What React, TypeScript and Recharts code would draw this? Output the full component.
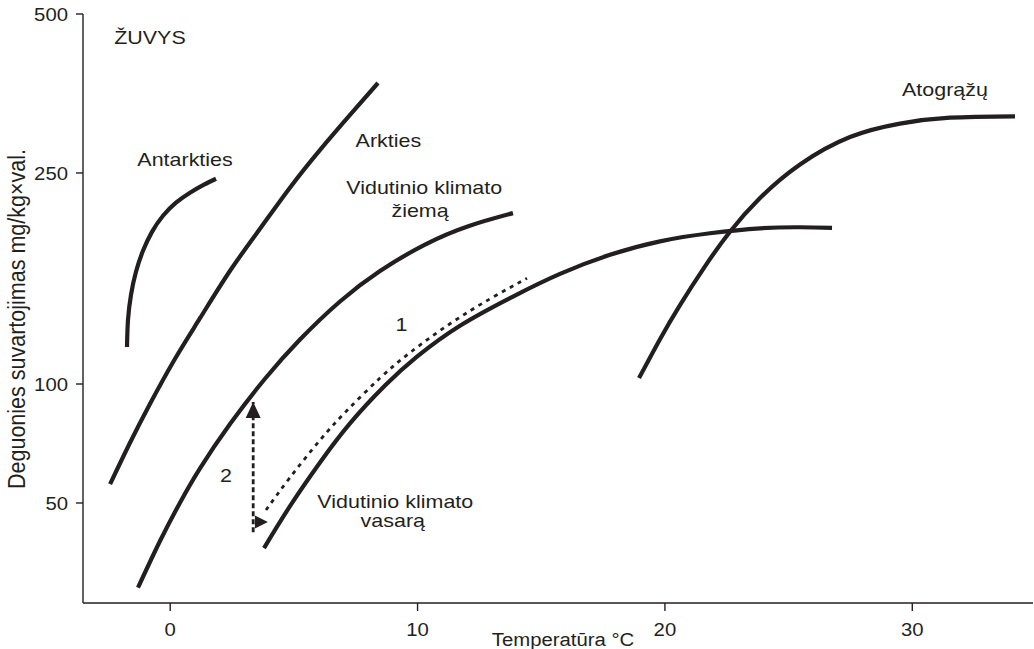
import React from 'react';
import { LineChart, Line, XAxis, YAxis, ReferenceDot } from 'recharts';

// Temperature (°C) and oxygen uptake (mg/kg×val.)
const antarktiesT = [-1.746, -1.706, -1.585, -1.383, -1.1, -0.736, -0.291, 0.234, 0.8, 1.366, 1.852];
const antarktiesV = [117.4, 132.1, 147.3, 162.8, 178.3, 193.6, 207.6, 219.7, 229.4, 237.6, 243.8];

const arktiesT = [-2.43, -1.63, -0.82, 0.19, 1.21, 2.42, 3.63, 4.84, 6.06, 7.27, 8.4];
const arktiesV = [55.8, 70.9, 89.0, 111.5, 133.2, 163.5, 196.2, 234.5, 276.5, 322.0, 370.1];

const ziemaT = [-1.302, -0.412, 0.396, 1.205, 2.418, 3.832, 5.247, 6.864, 8.481, 10.301, 12.08, 13.858];
const ziemaV = [30.6, 40.1, 50.1, 61.2, 79.2, 102.3, 121.3, 143.1, 163.3, 183.2, 198.6, 210.0];

const vasaraT = [3.792, 4.843, 6.056, 7.269, 8.684, 9.977, 11.715, 13.858, 15.758, 17.779, 19.801, 21.822, 23.844, 25.461, 26.755];
const vasaraV = [38.5, 49.1, 63.3, 79.5, 99.1, 112.6, 128.8, 146.2, 161.3, 175.2, 185.8, 192.4, 196.6, 197.5, 197.0];

// path 1: summer fish warmed up (dotted)
const kelias1T = [3.873, 4.843, 6.056, 7.147, 8.481, 9.694, 11.311, 12.928, 14.424];
const kelias1V = [48.0, 58.0, 72.1, 85.7, 102.6, 114.6, 129.9, 144.7, 158.3];

const atograzuT = [18.952, 19.801, 20.609, 21.62, 22.63, 23.844, 25.461, 27.483, 29.504, 31.525, 34.153];
const atograzuV = [102.6, 121.5, 140.9, 166.7, 193.7, 224.2, 259.4, 292.4, 310.1, 318.2, 320.1];

// path 2: acclimation at constant temperature (vertical dashed arrow)
const kelias2T = [3.355, 3.355];
const kelias2V = [42.2, 90];
const kelias2StartT = [3.355, 3.95];
const kelias2StartV = [44.8, 44.8];

// Text notes placed in data units (centre of baseline)
const noteText = ['ŽUVYS', 'Antarkties', 'Arkties', 'Vidutinio klimato', 'žiemą', 'Vidutinio klimato', 'vasarą', '1', '2', 'Atogrąžų'];
const noteT = [-0.82, 0.6, 8.82, 10.27, 10.1, 9.1, 9.0, 9.35, 2.25, 31.32];
const noteV = [438.5, 257.2, 280.5, 228.4, 206.7, 48.6, 43.5, 125.9, 56.6, 349.8];

const tempTicks = [0, 10, 20, 30];
const tempDomain = [-3.525, 34.88];
const oxygenTicks = [50, 100, 250, 500];
// The oxygen axis is logarithmic between its labelled values, with uneven spacing below 100
const oxygenKnots = [28, 50, 100, 250, 500];
const oxygenKnotFrac = [0, 0.1698, 0.3718, 0.7301, 1];

const INK = '#231f20';
const FONT = '"Liberation Sans", Arial, Helvetica, sans-serif';
const STRETCH = 1.13;

const toPoints = (t: number[], v: number[]) => t.map((x, i) => ({ t: x, v: v[i] }));

function makeOxygenScale(): any {
  const logKnots = oxygenKnots.map((k) => Math.log10(k));
  let dom: number[] = [oxygenKnots[0], oxygenKnots[oxygenKnots.length - 1]];
  let rng: number[] = [0, 1];
  const frac = (v: number) => {
    const lv = Math.log10(Math.max(v, 1e-9));
    let i = 0;
    while (i < logKnots.length - 2 && lv > logKnots[i + 1]) i++;
    return (
      oxygenKnotFrac[i] +
      ((lv - logKnots[i]) / (logKnots[i + 1] - logKnots[i])) * (oxygenKnotFrac[i + 1] - oxygenKnotFrac[i])
    );
  };
  const unfrac = (f: number) => {
    let i = 0;
    while (i < oxygenKnotFrac.length - 2 && f > oxygenKnotFrac[i + 1]) i++;
    const lv =
      logKnots[i] +
      ((f - oxygenKnotFrac[i]) / (oxygenKnotFrac[i + 1] - oxygenKnotFrac[i])) * (logKnots[i + 1] - logKnots[i]);
    return Math.pow(10, lv);
  };
  const scale: any = (v: number) => rng[0] + frac(v) * (rng[rng.length - 1] - rng[0]);
  scale.domain = (d?: number[]) => {
    if (d === undefined) return dom.slice();
    dom = d.slice();
    return scale;
  };
  scale.range = (r?: number[]) => {
    if (r === undefined) return rng.slice();
    rng = r.slice();
    return scale;
  };
  scale.rangeRound = scale.range;
  scale.copy = () => {
    const s = makeOxygenScale();
    s.domain(dom);
    s.range(rng);
    return s;
  };
  scale.invert = (px: number) => unfrac((px - rng[0]) / (rng[rng.length - 1] - rng[0]));
  scale.ticks = () => oxygenTicks.slice();
  scale.tickFormat = () => (v: number) => String(v);
  scale.nice = () => scale;
  return scale;
}

const oxygenScale = makeOxygenScale();

const StretchText = ({ x, y, text, size, anchor = 'middle', dy }: any) => (
  <g transform={`translate(${x},${y}) scale(${STRETCH},1)`}>
    <text x={0} y={0} dy={dy} textAnchor={anchor} fontSize={size} fontFamily={FONT} fill={INK}>
      {text}
    </text>
  </g>
);

const XTick = (p: any) => <StretchText x={p.x} y={p.y} text={p.payload.value} size={18} dy="0.71em" />;
const YTick = (p: any) => <StretchText x={p.x} y={p.y} text={p.payload.value} size={18} anchor="end" dy="0.38em" />;

const XTitle = (p: any) => {
  const vb = p.viewBox || { x: 83, y: 603, width: 950, height: 46 };
  return <StretchText x={vb.x + 480} y={vb.y + 43} text="Temperatūra °C" size={18} />;
};

const YTitle = (p: any) => {
  const vb = p.viewBox || { x: 0, y: 14, width: 83, height: 589 };
  return (
    <g transform={`translate(${vb.x + 25},${vb.y + 305}) scale(${STRETCH},1) rotate(-90)`}>
      <text textAnchor="middle" fontSize={21.5} fontFamily={FONT} fill={INK}>
        Deguonies suvartojimas mg/kg×val.
      </text>
    </g>
  );
};

const ArrowUpHead = (p: any) =>
  p.index === 1 ? (
    <polygon key={`up-${p.index}`} points={`${p.cx},${p.cy} ${p.cx - 7.5},${p.cy + 16} ${p.cx + 7.5},${p.cy + 16}`} fill={INK} />
  ) : (
    <g key={`up-${p.index}`} />
  );

const ArrowRightHead = (p: any) =>
  p.index === 1 ? (
    <polygon key={`rt-${p.index}`} points={`${p.cx},${p.cy} ${p.cx - 13},${p.cy - 6.5} ${p.cx - 13},${p.cy + 6.5}`} fill={INK} />
  ) : (
    <g key={`rt-${p.index}`} />
  );

const curves = [
  { name: 'Antarkties', t: antarktiesT, v: antarktiesV },
  { name: 'Arkties', t: arktiesT, v: arktiesV },
  { name: 'Vidutinio klimato žiemą', t: ziemaT, v: ziemaV },
  { name: 'Vidutinio klimato vasarą', t: vasaraT, v: vasaraV },
  { name: 'Atogrąžų', t: atograzuT, v: atograzuV },
];

export default function App() {
  return (
    <div style={{ position: 'absolute', left: 0, top: 0, width: 1034, height: 649, background: '#fff' }}>
      <LineChart width={1034} height={649} margin={{ top: 14, right: 1, bottom: 0, left: 0 }}>
        <XAxis
          type="number"
          dataKey="t"
          domain={tempDomain}
          allowDataOverflow
          ticks={tempTicks}
          interval={0}
          height={46}
          axisLine={{ stroke: INK, strokeWidth: 1.4 }}
          tickLine={{ stroke: INK, strokeWidth: 1.4 }}
          tickSize={8}
          tickMargin={12}
          tick={(p: any) => <XTick {...p} />}
          label={{ content: (p: any) => <XTitle {...p} /> }}
        />
        <YAxis
          type="number"
          dataKey="v"
          scale={oxygenScale}
          domain={[oxygenKnots[0], oxygenKnots[oxygenKnots.length - 1]]}
          allowDataOverflow
          ticks={oxygenTicks}
          interval={0}
          width={83}
          axisLine={{ stroke: INK, strokeWidth: 1.4 }}
          tickLine={{ stroke: INK, strokeWidth: 1.4 }}
          tickSize={7}
          tickMargin={8}
          tick={(p: any) => <YTick {...p} />}
          label={{ content: (p: any) => <YTitle {...p} /> }}
        />
        {curves.map((c) => (
          <Line
            key={c.name}
            name={c.name}
            data={toPoints(c.t, c.v)}
            dataKey="v"
            type="natural"
            stroke={INK}
            strokeWidth={4.2}
            dot={false}
            activeDot={false}
            isAnimationActive={false}
          />
        ))}
        <Line
          name="1"
          data={toPoints(kelias1T, kelias1V)}
          dataKey="v"
          type="natural"
          stroke={INK}
          strokeWidth={2.8}
          strokeDasharray="4 5"
          dot={false}
          activeDot={false}
          isAnimationActive={false}
        />
        <Line
          name="2"
          data={toPoints(kelias2T, kelias2V)}
          dataKey="v"
          type="linear"
          stroke={INK}
          strokeWidth={2.8}
          strokeDasharray="5 3"
          dot={ArrowUpHead}
          activeDot={false}
          isAnimationActive={false}
        />
        <Line
          name="2 start"
          data={toPoints(kelias2StartT, kelias2StartV)}
          dataKey="v"
          type="linear"
          stroke="none"
          dot={ArrowRightHead}
          activeDot={false}
          isAnimationActive={false}
        />
        {noteText.map((txt, i) => (
          <ReferenceDot
            key={`note-${i}`}
            x={noteT[i]}
            y={noteV[i]}
            r={0}
            ifOverflow="visible"
            shape={(p: any) => <StretchText x={p.cx} y={p.cy} text={txt} size={19} />}
          />
        ))}
      </LineChart>
    </div>
  );
}
